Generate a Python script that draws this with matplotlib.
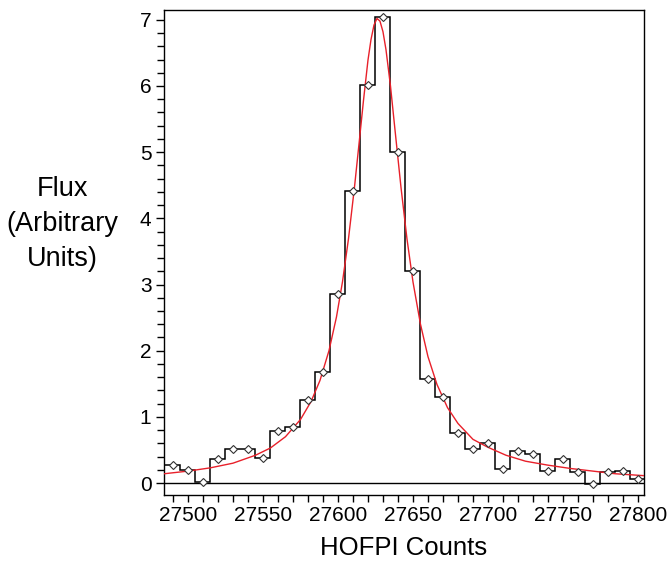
import matplotlib
matplotlib.use('Agg')
import matplotlib.pyplot as plt
from matplotlib.ticker import MultipleLocator

plt.rcParams['font.family'] = ['Liberation Sans', 'DejaVu Sans']

# binned HOFPI counts (bin centres, 10 counts wide)
bin_centers = [27490, 27500, 27510, 27520, 27530, 27540, 27550, 27560,
               27570, 27580, 27590, 27600, 27610, 27620, 27630, 27640,
               27650, 27660, 27670, 27680, 27690, 27700, 27710, 27720,
               27730, 27740, 27750, 27760, 27770, 27780, 27790, 27800]
flux = [0.27, 0.19, 0.01, 0.36, 0.52, 0.52, 0.38, 0.79,
        0.84, 1.25, 1.68, 2.86, 4.42, 6.02, 7.05, 5.00,
        3.21, 1.57, 1.30, 0.76, 0.51, 0.60, 0.21, 0.48,
        0.44, 0.18, 0.37, 0.16, -0.02, 0.16, 0.18, 0.06]
bin_width = 10

# fitted line profile
fit_x = [27484, 27500, 27515, 27530, 27545, 27555, 27565, 27575, 27582,
         27588, 27594, 27599, 27603, 27607, 27611, 27614, 27617, 27620,
         27622, 27624, 27626, 27628, 27630, 27632, 27635, 27638, 27642,
         27646, 27650, 27655, 27660, 27666, 27673, 27680, 27690, 27700,
         27712, 27725, 27740, 27755, 27770, 27785, 27805]
fit_y = [0.14, 0.18, 0.23, 0.30, 0.42, 0.53, 0.70, 0.96, 1.23,
         1.55, 2.00, 2.51, 3.04, 3.69, 4.47, 5.12, 5.78, 6.39,
         6.70, 6.92, 7.02, 6.98, 6.82, 6.55, 6.00, 5.34, 4.47,
         3.69, 3.04, 2.40, 1.91, 1.49, 1.14, 0.90, 0.66, 0.54,
         0.42, 0.33, 0.27, 0.22, 0.18, 0.14, 0.11]

edges = [c - bin_width / 2 for c in bin_centers] + [bin_centers[-1] + bin_width / 2]

fig = plt.figure(figsize=(6.68, 5.65), dpi=100)
ax = fig.add_axes([0.2455, 0.124, 0.7185, 0.8585])

ax.axhline(0, color='black', lw=1.0, zorder=1)
ax.stairs(flux, edges, baseline=None, color='black', lw=1.1, zorder=2)
ax.plot(fit_x, fit_y, color='#e8202a', lw=1.0, zorder=3)
ax.plot(bin_centers, flux, ls='none', marker='D', markersize=4.3,
        markerfacecolor='white', markeredgecolor='#333333', markeredgewidth=0.8,
        zorder=4, clip_on=False)

ax.set_xlim(27484, 27804)
ax.set_ylim(-0.18, 7.15)

ax.xaxis.set_major_locator(MultipleLocator(50))
ax.xaxis.set_minor_locator(MultipleLocator(10))
ax.yaxis.set_major_locator(MultipleLocator(1))
ax.yaxis.set_minor_locator(MultipleLocator(0.2))
ax.tick_params(axis='both', which='both', direction='out', color='black',
               width=1.0, labelsize=15, pad=3)
ax.tick_params(axis='x', which='both', length=5)
ax.tick_params(axis='y', which='major', length=6)
ax.tick_params(axis='y', which='minor', length=5)

for s in ax.spines.values():
    s.set_linewidth(1.0)
    s.set_color('black')

ax.set_xlabel('HOFPI Counts', fontsize=18.5, labelpad=8)
fig.text(0.093, 0.603, 'Flux\n(Arbitrary\nUnits)', fontsize=19.5, ha='center',
         va='center', multialignment='center', linespacing=1.45)

fig.savefig('out.png', dpi=100)
